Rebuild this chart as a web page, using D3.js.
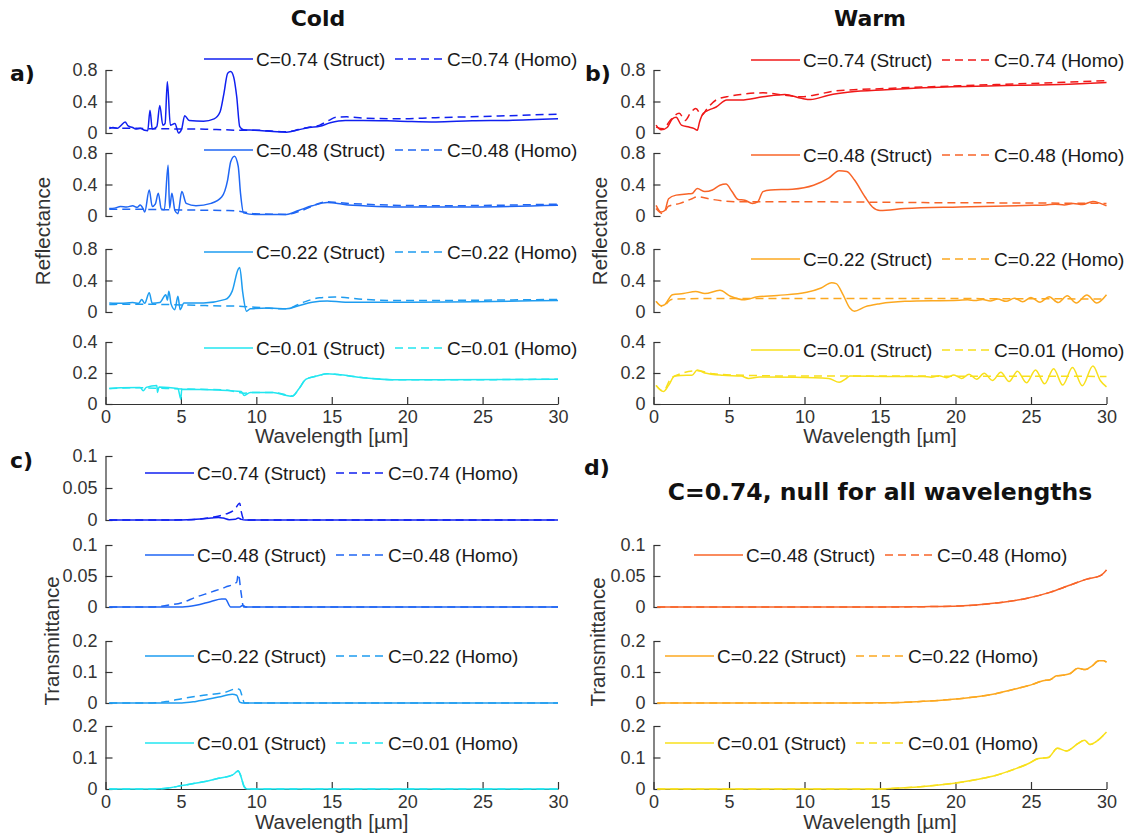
<!DOCTYPE html>
<html>
<head>
<meta charset="utf-8">
<script src="https://cdn.jsdelivr.net/npm/d3@7"></script>
<style>
  body { margin: 0; background: #ffffff; }
  svg { display: block; }
</style>
</head>
<body>
<svg id="fig" width="1128" height="836"></svg>
<script>
// ---------------------------------------------------------------
// Spectra: [wavelength (µm), value] pairs
// ---------------------------------------------------------------
const waveDomain = [0, 30];
const waveTicks = [0, 5, 10, 15, 20, 25, 30];
const reflTicksHigh = [0, 0.4, 0.8];
const reflTicksLow = [0, 0.2, 0.4];
const transTicksLow = [0, 0.05, 0.1];
const transTicksHigh = [0, 0.1, 0.2];
const concentrations = ["0.74", "0.48", "0.22", "0.01"];

// Cold reflectance
const coldR74Struct = [[0.25,0.055],[0.5,0.07],[0.8,0.06],[1.0,0.09],[1.3,0.14],[1.5,0.09],[1.8,0.07],[2.0,0.05],[2.3,0.06],[2.6,0.035],[2.8,0.03],[2.95,0.29],[3.1,0.05],[3.4,0.08],[3.6,0.35],[3.8,0.1],[3.95,0.12],[4.1,0.65],[4.3,0.1],[4.6,0.12],[4.85,0.0],[5.05,0.05],[5.25,0.22],[5.55,0.16],[6.5,0.15],[7.2,0.18],[7.6,0.27],[7.85,0.5],[8.1,0.76],[8.3,0.78],[8.5,0.71],[8.7,0.46],[8.9,0.08],[9.15,0.04],[9.9,0.035],[11.1,0.02],[12.0,0.01],[12.8,0.04],[13.5,0.07],[14.2,0.085],[14.9,0.13],[15.9,0.16],[17.1,0.16],[19.5,0.15],[21.9,0.14],[24.3,0.155],[26.7,0.16],[30,0.18]];
const coldR74Homo = [[0.25,0.07],[1,0.06],[2,0.06],[3,0.055],[4,0.055],[5,0.05],[6,0.05],[7,0.045],[8,0.04],[8.7,0.035],[9.9,0.035],[11,0.025],[11.8,0.015],[12.5,0.03],[13,0.055],[13.6,0.075],[14.2,0.1],[14.8,0.16],[15.3,0.2],[16,0.205],[17.1,0.19],[19.5,0.18],[21.9,0.195],[24,0.205],[26.7,0.22],[30,0.24]];
const coldR48Struct = [[0.25,0.094],[0.6,0.1],[1.0,0.12],[1.4,0.115],[1.8,0.13],[2.1,0.11],[2.3,0.14],[2.5,0.09],[2.6,0.05],[2.9,0.33],[3.1,0.12],[3.3,0.15],[3.5,0.29],[3.7,0.09],[3.9,0.08],[4.15,0.645],[4.25,0.1],[4.4,0.29],[4.6,0.07],[4.8,0.03],[5.06,0.31],[5.35,0.16],[6.0,0.13],[7.0,0.16],[7.7,0.24],[8.1,0.46],[8.3,0.69],[8.55,0.76],[8.8,0.63],[8.95,0.29],[9.15,0.04],[9.9,0.02],[12.0,0.02],[12.8,0.07],[13.7,0.13],[14.7,0.17],[15.4,0.16],[16.1,0.14],[17.1,0.13],[19.5,0.115],[24.3,0.115],[30,0.135]];
const coldR48Homo = [[0.25,0.085],[2,0.085],[4,0.08],[6,0.075],[8,0.07],[8.7,0.065],[9.9,0.03],[12,0.02],[13,0.07],[14.7,0.18],[15.4,0.17],[17.1,0.15],[21.9,0.13],[30,0.15]];
const coldR22Struct = [[0.25,0.115],[1.0,0.11],[1.8,0.12],[2.2,0.11],[2.4,0.16],[2.6,0.11],[2.9,0.245],[3.1,0.11],[3.6,0.12],[4.0,0.22],[4.1,0.15],[4.2,0.265],[4.35,0.1],[4.6,0.03],[4.8,0.2],[4.95,0.03],[5.2,0.115],[6.5,0.115],[7.95,0.16],[8.4,0.265],[8.8,0.545],[8.9,0.565],[9.1,0.245],[9.35,0.01],[9.6,0.04],[10.85,0.05],[12.0,0.04],[12.8,0.08],[13.7,0.125],[14.7,0.14],[15.9,0.125],[19.5,0.125],[30,0.145]];
const coldR22Homo = [[0.25,0.095],[2,0.1],[4,0.095],[6,0.085],[8,0.075],[8.7,0.075],[9.9,0.06],[12,0.04],[13,0.115],[14.2,0.18],[15.2,0.19],[17.1,0.16],[19.5,0.145],[30,0.16]];
const coldR01Struct = [[0.25,0.1],[1,0.105],[2.3,0.107],[2.5,0.085],[2.7,0.107],[3.4,0.12],[3.45,0.075],[3.55,0.11],[4.8,0.1],[5.0,0.03],[5.05,0.095],[7.5,0.09],[9.0,0.08],[9.2,0.055],[9.6,0.075],[11.1,0.075],[12.0,0.055],[12.4,0.05],[12.8,0.095],[13.3,0.16],[14.0,0.18],[14.7,0.195],[15.4,0.19],[17.1,0.17],[19.5,0.156],[21.9,0.156],[30,0.16]];
const coldR01Homo = [[0.25,0.1],[2,0.105],[4,0.1],[6,0.095],[8,0.09],[9.2,0.07],[10,0.075],[11.1,0.075],[12.0,0.058],[12.4,0.052],[12.8,0.095],[13.3,0.16],[14.0,0.18],[14.7,0.195],[15.4,0.19],[17.1,0.17],[19.5,0.156],[21.9,0.156],[30,0.16]];

// Warm reflectance
const warmR74Struct = [[0.17,0.1],[0.5,0.04],[0.9,0.07],[1.25,0.18],[1.5,0.2],[1.85,0.1],[2.35,0.075],[2.7,0.055],[2.9,0.035],[3.05,0.14],[3.3,0.25],[3.65,0.29],[4.15,0.33],[4.85,0.42],[5.8,0.42],[7.25,0.46],[8.7,0.49],[9.8,0.44],[10.4,0.425],[11.6,0.48],[13.0,0.52],[15.4,0.55],[17.85,0.575],[22.7,0.6],[27.5,0.62],[30,0.64]];
const warmR74Homo = [[0.17,0.075],[0.65,0.055],[1.1,0.16],[1.7,0.25],[2.1,0.16],[2.45,0.255],[2.8,0.31],[3.2,0.225],[3.55,0.31],[4.15,0.42],[4.85,0.46],[5.8,0.49],[7.25,0.51],[8.7,0.48],[9.8,0.46],[10.6,0.48],[12.1,0.535],[15.4,0.565],[20.25,0.6],[25.1,0.63],[30,0.665]];
const warmR48Struct = [[0.17,0.135],[0.5,0.05],[0.75,0.07],[1.0,0.22],[1.5,0.265],[2.2,0.28],[2.55,0.285],[2.9,0.35],[3.4,0.31],[3.9,0.33],[4.4,0.39],[4.8,0.405],[5.2,0.31],[5.6,0.21],[6.05,0.2],[6.55,0.16],[6.9,0.18],[7.25,0.31],[7.75,0.33],[9.2,0.34],[10.6,0.39],[11.6,0.48],[12.3,0.575],[12.8,0.565],[13.3,0.46],[14.0,0.245],[14.5,0.115],[15.0,0.07],[16.65,0.095],[20.25,0.115],[25.1,0.135],[26,0.14],[26.6,0.15],[27.2,0.14],[27.8,0.16],[28.4,0.145],[29.1,0.185],[29.6,0.16],[30,0.13]];
const warmR48Homo = [[0.17,0.095],[0.6,0.03],[1.0,0.125],[1.75,0.16],[2.55,0.22],[2.9,0.245],[3.9,0.21],[5.8,0.18],[10.6,0.18],[17.85,0.17],[25.1,0.165],[30,0.16]];
const warmR22Struct = [[0.17,0.135],[0.5,0.08],[0.75,0.095],[1.25,0.22],[1.97,0.235],[2.8,0.26],[3.4,0.235],[4.4,0.275],[5.1,0.2],[6.05,0.155],[6.8,0.19],[8.2,0.21],[10.15,0.25],[11.1,0.305],[11.8,0.37],[12.1,0.36],[12.55,0.22],[13.0,0.05],[13.3,0.01],[14.0,0.065],[15.0,0.105],[16.65,0.135],[20.25,0.15],[20.8,0.155],[21.3,0.145],[21.8,0.16],[22.3,0.14],[22.8,0.165],[23.35,0.135],[23.9,0.175],[24.45,0.13],[25.0,0.185],[25.6,0.125],[26.2,0.195],[26.8,0.12],[27.4,0.205],[28.0,0.115],[28.7,0.215],[29.35,0.115],[30,0.22]];
const warmR22Homo = [[0.17,0.135],[0.6,0.07],[1.2,0.16],[3,0.17],[10,0.17],[20,0.17],[30,0.165]];
const warmR01Struct = [[0.17,0.12],[0.65,0.08],[1.0,0.12],[1.4,0.18],[2.2,0.185],[2.55,0.185],[2.9,0.22],[3.4,0.2],[4.6,0.185],[5.8,0.18],[6.3,0.165],[7.0,0.175],[9.4,0.173],[11.6,0.165],[12.3,0.14],[12.7,0.16],[13.0,0.18],[15.4,0.178],[17.85,0.178],[18.4,0.173],[18.9,0.183],[19.4,0.17],[19.9,0.187],[20.4,0.165],[20.9,0.192],[21.4,0.16],[21.9,0.198],[22.45,0.152],[23.0,0.205],[23.55,0.145],[24.1,0.212],[24.7,0.137],[25.3,0.22],[25.9,0.13],[26.5,0.228],[27.1,0.122],[27.75,0.235],[28.4,0.118],[29.1,0.245],[29.6,0.15],[30,0.11]];
const warmR01Homo = [[0.17,0.12],[0.65,0.085],[1.2,0.17],[2.9,0.215],[4,0.195],[6,0.185],[10,0.18],[15,0.18],[30,0.178]];

// Cold transmittance
const coldT74Struct = [[0.25,0],[5,0],[6.0,0.001],[7.0,0.003],[7.5,0.004],[7.8,0.003],[8.2,0.0005],[8.6,0.001],[8.8,0.003],[9.0,0.001],[9.3,0],[30,0]];
const coldT74Homo = [[0.25,0],[4,0],[5.1,0.0003],[6.0,0.001],[7.0,0.004],[8.0,0.0095],[8.55,0.016],[8.9,0.026],[9.0,0.013],[9.2,0],[30,0]];
const coldT48Struct = [[0.25,0],[5.1,0],[6.0,0.0027],[7.0,0.009],[7.7,0.013],[7.95,0.0128],[8.3,0.0],[8.9,0],[9.1,0.0027],[9.3,0],[30,0]];
const coldT48Homo = [[0.25,0],[3.1,0],[4.1,0.0027],[5.06,0.007],[6.0,0.016],[7.0,0.024],[7.95,0.032],[8.7,0.04],[8.8,0.053],[9.0,0.021],[9.15,0],[30,0]];
const coldT22Struct = [[0.25,0],[5.06,0],[6.0,0.005],[7.5,0.019],[8.4,0.028],[8.7,0.025],[8.9,0.003],[9.1,0],[30,0]];
const coldT22Homo = [[0.25,0],[3.1,0],[4.1,0.005],[5.06,0.014],[6.5,0.025],[7.95,0.035],[8.7,0.046],[8.9,0.043],[9.1,0.014],[9.2,0],[30,0]];
const coldT01Struct = [[0.25,0],[3.1,0],[4.3,0.004],[5.06,0.011],[6.5,0.023],[7.5,0.034],[8.4,0.044],[8.7,0.055],[8.8,0.058],[8.95,0.044],[9.2,0.007],[9.4,0],[30,0]];
const coldT01Homo = [[0.25,0],[3.1,0],[4.3,0.004],[5.06,0.011],[6.5,0.023],[7.5,0.034],[8.4,0.044],[8.7,0.055],[8.8,0.058],[8.95,0.044],[9.2,0.007],[9.4,0],[30,0]];

// Warm transmittance (C=0.74 is zero everywhere and not plotted)
const warmT48Struct = [[0.25,0],[15,0],[17.85,0.0005],[20.25,0.0016],[22.65,0.0064],[24.6,0.0133],[26.3,0.024],[27.5,0.0346],[28.7,0.045],[29.6,0.0505],[30,0.0596]];
const warmT48Homo = [[0.25,0],[15,0],[17.85,0.0005],[20.25,0.0016],[22.65,0.0064],[24.6,0.0133],[26.3,0.024],[27.5,0.0346],[28.7,0.045],[29.6,0.0505],[30,0.0596]];
const warmT22Struct = [[0.25,0],[13,0],[15.4,0.0005],[17.85,0.0055],[20.25,0.014],[22.65,0.03],[24.1,0.047],[25.1,0.06],[25.8,0.072],[26.3,0.076],[26.7,0.088],[27.2,0.09],[27.6,0.095],[28.1,0.112],[28.6,0.108],[29.0,0.118],[29.5,0.136],[29.8,0.136],[30,0.132]];
const warmT22Homo = [[0.25,0],[13,0],[15.4,0.0005],[17.85,0.0055],[20.25,0.014],[22.65,0.03],[24.1,0.047],[25.1,0.06],[25.8,0.072],[26.3,0.076],[26.7,0.088],[27.2,0.09],[27.6,0.095],[28.1,0.112],[28.6,0.108],[29.0,0.118],[29.5,0.136],[29.8,0.136],[30,0.132]];
const warmT01Struct = [[0.25,0],[14.5,0],[16.65,0.004],[17.85,0.008],[19.05,0.0136],[20.25,0.021],[21.5,0.031],[22.65,0.043],[23.9,0.063],[24.8,0.08],[25.5,0.097],[26.15,0.1],[26.75,0.129],[27.35,0.121],[28.1,0.144],[28.55,0.155],[28.9,0.141],[29.3,0.15],[30,0.181]];
const warmT01Homo = [[0.25,0],[14.5,0],[16.65,0.004],[17.85,0.008],[19.05,0.0136],[20.25,0.021],[21.5,0.031],[22.65,0.043],[23.9,0.063],[24.8,0.08],[25.5,0.097],[26.15,0.1],[26.75,0.129],[27.35,0.121],[28.1,0.144],[28.55,0.155],[28.9,0.141],[29.3,0.15],[30,0.181]];

const coldColors = ["#1020f0", "#1f66f4", "#1e9cf0", "#22e6f0"];
const warmColors = ["#f01818", "#f86428", "#fca820", "#f8e01c"];

// ---------------------------------------------------------------
// Figure layout
// ---------------------------------------------------------------
const svg = d3.select("#fig");
const FONT = "'Liberation Sans', Arial, Helvetica, sans-serif";
const BOLD = "'DejaVu Sans', Verdana, sans-serif";
const AX = "#333333";

const colCold = [105.5, 558];
const colWarm = [653.5, 1106.5];
const rowsR = [[70, 133], [153, 216], [249, 312], [342, 404]];
const rowsT = [[456, 520], [545, 607], [641, 703], [726, 789]];

const fmt = d3.format("~g");

function subplot(o) {
  const x = d3.scaleLinear().domain(waveDomain).range(o.xr);
  const y = d3.scaleLinear().domain([0, o.ticks[o.ticks.length - 1]]).range([o.yr[1], o.yr[0]]);
  const g = svg.append("g");

  // y axis with inward ticks
  const ya = g.append("g")
    .attr("transform", `translate(${o.xr[0]},0)`)
    .call(d3.axisLeft(y).tickValues(o.ticks).tickFormat(fmt).tickSizeInner(-7).tickSizeOuter(0).tickPadding(8));
  styleAxis(ya);

  if (o.bottom) {
    const xa = g.append("g")
      .attr("transform", `translate(0,${o.yr[1]})`)
      .call(d3.axisBottom(x).tickValues(waveTicks).tickFormat(fmt).tickSizeInner(-7).tickSizeOuter(0).tickPadding(6));
    styleAxis(xa);
  }

  const line = d3.line().x(d => x(d[0])).y(d => y(d[1])).curve(d3.curveMonotoneX);
  g.append("path").datum(o.struct).attr("d", line)
    .attr("fill", "none").attr("stroke", o.color).attr("stroke-width", 1.5)
    .attr("stroke-linejoin", "round");
  g.append("path").datum(o.homo).attr("d", line)
    .attr("fill", "none").attr("stroke", o.color).attr("stroke-width", 1.5)
    .attr("stroke-dasharray", "8,5").attr("stroke-linejoin", "round");

  // legend: solid sample, label, dashed sample, label
  const lg = g.append("g").attr("transform", `translate(${o.legX},${o.legY})`);
  lg.append("line").attr("x1", 0).attr("x2", 49).attr("stroke", o.color).attr("stroke-width", 1.5);
  lg.append("text").attr("x", 52).attr("dy", "0.35em").text(`C=${o.c} (Struct)`);
  lg.append("line").attr("x1", 191).attr("x2", 240).attr("stroke", o.color).attr("stroke-width", 1.5)
    .attr("stroke-dasharray", "8,5");
  lg.append("text").attr("x", 243).attr("dy", "0.35em").text(`C=${o.c} (Homo)`);
  lg.selectAll("text").attr("font-family", FONT).attr("font-size", 19).attr("fill", "#1a1a1a");
}

function styleAxis(a) {
  a.attr("font-family", FONT).attr("font-size", 18);
  a.selectAll(".domain").attr("stroke", AX).attr("stroke-width", 1.2);
  a.selectAll(".tick line").attr("stroke", AX).attr("stroke-width", 1.2);
  a.selectAll(".tick text").attr("fill", AX);
}

// Panel a) cold reflectance
const coldRStruct = [coldR74Struct, coldR48Struct, coldR22Struct, coldR01Struct];
const coldRHomo = [coldR74Homo, coldR48Homo, coldR22Homo, coldR01Homo];
const legYa = [59, 150, 252, 348];
concentrations.forEach((c, i) => subplot({
  xr: colCold, yr: rowsR[i], ticks: i === 3 ? reflTicksLow : reflTicksHigh,
  struct: coldRStruct[i], homo: coldRHomo[i], color: coldColors[i], c,
  legX: 204, legY: legYa[i], bottom: i === 3
}));

// Panel b) warm reflectance
const warmRStruct = [warmR74Struct, warmR48Struct, warmR22Struct, warmR01Struct];
const warmRHomo = [warmR74Homo, warmR48Homo, warmR22Homo, warmR01Homo];
const legYb = [60, 155, 259, 350];
concentrations.forEach((c, i) => subplot({
  xr: colWarm, yr: rowsR[i], ticks: i === 3 ? reflTicksLow : reflTicksHigh,
  struct: warmRStruct[i], homo: warmRHomo[i], color: warmColors[i], c,
  legX: 751, legY: legYb[i], bottom: i === 3
}));

// Panel c) cold transmittance
const coldTStruct = [coldT74Struct, coldT48Struct, coldT22Struct, coldT01Struct];
const coldTHomo = [coldT74Homo, coldT48Homo, coldT22Homo, coldT01Homo];
const legYc = [473, 555, 656, 743];
concentrations.forEach((c, i) => subplot({
  xr: colCold, yr: rowsT[i], ticks: i < 2 ? transTicksLow : transTicksHigh,
  struct: coldTStruct[i], homo: coldTHomo[i], color: coldColors[i], c,
  legX: 145, legY: legYc[i], bottom: i === 3
}));

// Panel d) warm transmittance, C=0.48 .. 0.01
const warmTStruct = [null, warmT48Struct, warmT22Struct, warmT01Struct];
const warmTHomo = [null, warmT48Homo, warmT22Homo, warmT01Homo];
const legYd = [null, 555, 656, 743];
const legXd = [null, 694, 665, 665];
concentrations.forEach((c, i) => {
  if (i === 0) return;
  subplot({
    xr: colWarm, yr: rowsT[i], ticks: i < 2 ? transTicksLow : transTicksHigh,
    struct: warmTStruct[i], homo: warmTHomo[i], color: warmColors[i], c,
    legX: legXd[i], legY: legYd[i], bottom: i === 3
  });
});

// Axis labels
function label(txt, x, y, rot) {
  svg.append("text").attr("transform", `translate(${x},${y}) rotate(${rot})`)
    .attr("text-anchor", "middle").attr("dy", "0.35em")
    .attr("font-family", FONT).attr("font-size", 20.5).attr("fill", AX).text(txt);
}
label("Wavelength [µm]", 331.75, 436, 0);
label("Wavelength [µm]", 880, 436, 0);
label("Wavelength [µm]", 331.75, 822, 0);
label("Wavelength [µm]", 880, 822, 0);
label("Reflectance", 43, 231, -90);
label("Reflectance", 600, 231, -90);
label("Transmittance", 52, 641, -90);
label("Transmittance", 598, 642, -90);

// Titles and panel letters
function bold(txt, x, y, size, anchor) {
  svg.append("text").attr("x", x).attr("y", y).attr("text-anchor", anchor)
    .attr("font-family", BOLD).attr("font-weight", "bold").attr("font-size", size)
    .attr("fill", "#111").text(txt);
}
bold("Cold", 318, 26, 22, "middle");
bold("Warm", 870, 26, 22, "middle");
bold("C=0.74, null for all wavelengths", 880, 500, 23.5, "middle");
bold("a)", 10, 81, 22, "start");
bold("b)", 585, 81, 22, "start");
bold("c)", 10, 468, 22, "start");
bold("d)", 584, 475, 22, "start");
</script>
</body>
</html>
